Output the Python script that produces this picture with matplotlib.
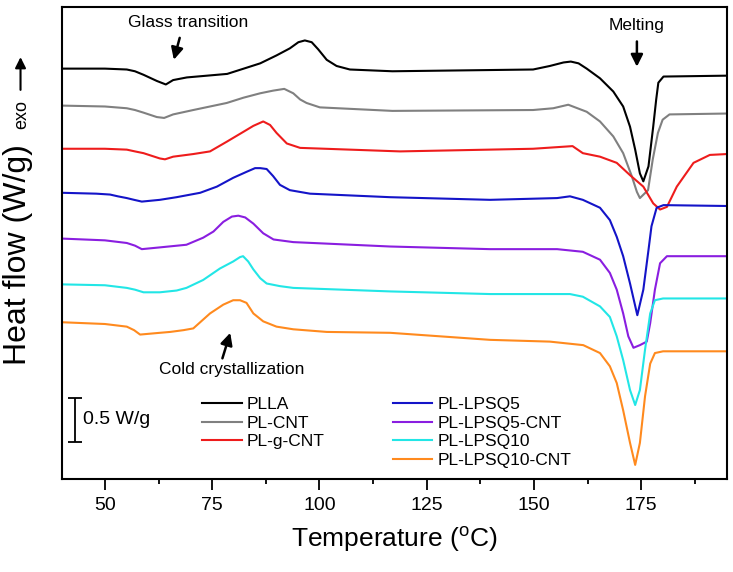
import matplotlib
matplotlib.use("Agg")
import matplotlib.pyplot as plt
from matplotlib.ticker import MultipleLocator, NullLocator

plt.rcParams['font.family'] = ['Liberation Sans', 'DejaVu Sans']
plt.rcParams['mathtext.fontset'] = 'custom'
plt.rcParams['mathtext.rm'] = 'Liberation Sans'

# DSC curves: temperature (°C) and stacked heat flow (W/g)
plla_T = [40, 50, 55.1, 57, 59, 62.1, 64.2, 65.9, 69.1, 78.5, 83, 86.2, 90, 93.1, 95.1, 96.6, 98.2, 99.7,
          101.7, 104, 107.1, 117, 149.8, 153.7, 156.9, 158.6, 160.4, 162.3, 165.4, 168.5, 170.8,
          172.4, 173.6, 174.7, 175.5, 176.7, 177.8, 178.5, 179, 180.2, 195]
plla_hf = [4.66, 4.66, 4.65, 4.63, 4.59, 4.52, 4.48, 4.53, 4.56, 4.60, 4.67, 4.72, 4.81, 4.89, 4.96, 4.98, 4.96, 4.88,
           4.76, 4.69, 4.65, 4.63, 4.65, 4.69, 4.73, 4.74, 4.72, 4.66, 4.55, 4.40, 4.23,
           4.00, 3.74, 3.47, 3.38, 3.55, 4.00, 4.31, 4.50, 4.57, 4.58]

cnt_T = [40, 50, 55.1, 57, 59, 62.1, 63.8, 65.9, 70.6, 78.4, 82.3, 86.2, 89.2, 91.8, 93.9, 95.5, 97, 100.1,
         117, 149.8, 154.5, 158, 162.3, 165.4, 168.5, 170.8, 172.8, 174, 174.7, 176.6, 177.7,
         178.9, 180, 181.6, 195]
cnt_hf = [4.24, 4.23, 4.21, 4.19, 4.16, 4.11, 4.10, 4.14, 4.19, 4.27, 4.33, 4.38, 4.41, 4.43, 4.38, 4.31, 4.27, 4.22,
          4.18, 4.19, 4.21, 4.25, 4.17, 4.06, 3.89, 3.70, 3.44, 3.26, 3.19, 3.28, 3.63,
          3.93, 4.08, 4.14, 4.15]

gcnt_T = [40, 50, 55.1, 57, 59, 62.8, 64, 65.9, 70.6, 74.5, 78.4, 82.2, 84.6, 86.9, 88.5, 90, 92.4, 95.5,
          118.8, 149.8, 159, 161.4, 165.4, 169.3, 172.4, 175.5, 177.8, 179.4, 181, 183.3, 187.2,
          191, 195]
gcnt_hf = [3.75, 3.75, 3.74, 3.72, 3.70, 3.64, 3.63, 3.66, 3.69, 3.72, 3.83, 3.94, 4.01, 4.06, 4.02, 3.93, 3.81, 3.76,
           3.72, 3.75, 3.78, 3.70, 3.66, 3.59, 3.45, 3.32, 3.13, 3.06, 3.09, 3.32, 3.59,
           3.68, 3.69]

q5_T = [40, 48, 51.2, 53, 55.1, 56.8, 58.6, 62.8, 66.7, 72.2, 76.1, 79.9, 83.1, 85, 86.2, 87.7, 89.2, 90.8, 93.1,
        97.8, 116.5, 139.8, 155.4, 158.4, 161.4, 165.4, 167.7, 169.3, 170.8, 172.4, 174.1, 175.5,
        176.7, 177.4, 178.6, 180.2, 195]
q5_hf = [3.25, 3.24, 3.23, 3.21, 3.19, 3.17, 3.15, 3.17, 3.20, 3.25, 3.32, 3.42, 3.49, 3.53, 3.53, 3.52, 3.44, 3.34, 3.28,
         3.24, 3.20, 3.17, 3.19, 3.21, 3.17, 3.08, 2.94, 2.75, 2.53, 2.22, 1.86, 2.15,
         2.60, 2.87, 3.08, 3.11, 3.10]

q5c_T = [40, 50, 55.1, 57, 58.6, 62.8, 69, 72.9, 75.3, 77.6, 79.6, 81.1, 82.7, 84.6, 86.9, 89.3, 93.9,
         116.5, 139.8, 155.4, 161.4, 165.4, 167.7, 169.3, 170.8, 172, 173.2, 174.7, 176.3, 177.1,
         178.2, 179.4, 181, 195]
q5c_hf = [2.73, 2.71, 2.68, 2.65, 2.61, 2.63, 2.66, 2.74, 2.81, 2.92, 2.98, 2.99, 2.97, 2.90, 2.79, 2.72, 2.69,
          2.64, 2.61, 2.61, 2.58, 2.49, 2.34, 2.15, 1.88, 1.62, 1.49, 1.52, 1.56, 1.77,
          2.15, 2.45, 2.53, 2.53]

q10_T = [40, 50, 55.1, 57, 59, 62.8, 66.7, 69, 72.9, 76.8, 79.9, 81.5, 82.2, 83.4, 84.6, 86.2, 87.7, 90.8,
         93.9, 116.5, 139.8, 158.4, 161.4, 165.4, 167.7, 169.3, 170.8, 172.4, 173.6, 174.7, 175.9,
         177.1, 178.2, 180.1, 195]
q10_hf = [2.21, 2.20, 2.17, 2.15, 2.12, 2.12, 2.14, 2.17, 2.26, 2.39, 2.47, 2.52, 2.53, 2.47, 2.38, 2.28, 2.22, 2.19,
          2.17, 2.13, 2.10, 2.10, 2.07, 1.96, 1.84, 1.62, 1.35, 1.01, 0.84, 1.01, 1.47,
          1.88, 2.03, 2.05, 2.05]

q10c_T = [40, 50, 55.1, 56.8, 58.2, 62.8, 65.2, 68.3, 70.6, 74.5, 77.6, 79.9, 81.5, 83, 84.6, 86.9, 90, 93.9,
          101.7, 116.5, 139.8, 153.7, 161.5, 165.4, 167.7, 169.3, 170.8, 172.4, 173.6, 174.7,
          175.9, 177.1, 178.2, 180.1, 195]
q10c_hf = [1.78, 1.76, 1.73, 1.69, 1.64, 1.66, 1.67, 1.69, 1.71, 1.88, 1.98, 2.03, 2.03, 2.00, 1.88, 1.79, 1.73, 1.70,
           1.67, 1.66, 1.58, 1.56, 1.52, 1.43, 1.28, 1.09, 0.78, 0.41, 0.16, 0.41,
           0.94, 1.31, 1.43, 1.45, 1.45]

names = ["PLLA", "PL-CNT", "PL-g-CNT", "PL-LPSQ5", "PL-LPSQ5-CNT", "PL-LPSQ10", "PL-LPSQ10-CNT"]
colors = ["#000000", "#808080", "#ee1c1c", "#1414c8", "#8a1ee0", "#22e6e6", "#ff8a1e"]
temps = [plla_T, cnt_T, gcnt_T, q5_T, q5c_T, q10_T, q10c_T]
flows = [plla_hf, cnt_hf, gcnt_hf, q5_hf, q5c_hf, q10_hf, q10c_hf]

fig = plt.figure(figsize=(7.33, 5.72), dpi=100)
ax = fig.add_axes([0.0846, 0.1626, 0.9072, 0.8252])

lines = []
for t, h, n, c in zip(temps, flows, names, colors):
    ln, = ax.plot(t, h, color=c, lw=1.5, label=n, solid_joinstyle='round')
    lines.append(ln)

ax.set_xlim(40, 195)
ax.set_ylim(0, 5.36)
ax.xaxis.set_major_locator(MultipleLocator(25))
ax.xaxis.set_minor_locator(MultipleLocator(12.5))
ax.yaxis.set_major_locator(NullLocator())
ax.tick_params(axis='x', which='major', direction='out', length=8, width=1.3, labelsize=14, pad=5)
ax.tick_params(axis='x', which='minor', direction='out', length=3.5, width=1.3)
for s in ax.spines.values():
    s.set_linewidth(1.5)

ax.set_xlabel(r"Temperature ($\mathregular{^o}$C)", fontsize=19, labelpad=8)

# y label with exo arrow
fig.text(0.024, 0.555, "Heat flow (W/g)", rotation=90, fontsize=23, ha='center', va='center')
fig.text(0.029, 0.80, "exo", rotation=90, fontsize=13, ha='center', va='center')
ax.annotate("", xy=(0.028, 0.905), xytext=(0.028, 0.838), xycoords='figure fraction',
            textcoords='figure fraction',
            arrowprops=dict(arrowstyle='-|>', color='black', lw=1.5, mutation_scale=16))

# annotations
arrow = dict(arrowstyle='-|>', color='black', lw=1.8, mutation_scale=18)
ax.text(69.4, 5.18, "Glass transition", fontsize=12.5, ha='center', va='center')
ax.annotate("", xy=(65.9, 4.73), xytext=(67.6, 5.04), arrowprops=arrow)
ax.text(174, 5.15, "Melting", fontsize=12.5, ha='center', va='center')
ax.annotate("", xy=(174, 4.65), xytext=(174, 5.0), arrowprops=arrow)
ax.text(79.6, 1.24, "Cold crystallization", fontsize=12.5, ha='center', va='center')
ax.annotate("", xy=(79.4, 1.69), xytext=(77.2, 1.34), arrowprops=arrow)

# scale bar 0.5 W/g
ax.errorbar([43], [0.67], yerr=[0.25], color='black', capsize=5, elinewidth=1.3, capthick=1.3)
ax.text(44.8, 0.67, "0.5 W/g", fontsize=14, ha='left', va='center')

leg_kw = dict(loc='upper left', frameon=False, fontsize=12.5, handlelength=2.3,
              handletextpad=0.3, labelspacing=0.2, borderaxespad=0, borderpad=0)
leg1 = ax.legend(handles=lines[:3], bbox_to_anchor=(0.21, 0.174), **leg_kw)
ax.add_artist(leg1)
ax.legend(handles=lines[3:], bbox_to_anchor=(0.497, 0.174), **leg_kw)

fig.savefig("out.png", dpi=100)
